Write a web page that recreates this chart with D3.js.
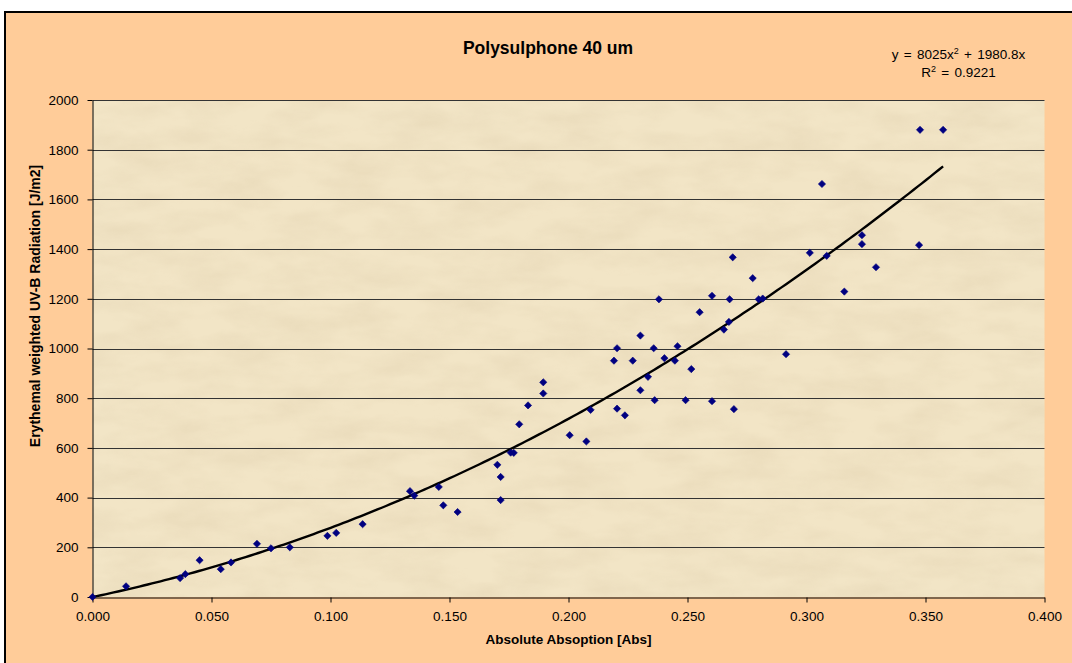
<!DOCTYPE html>
<html>
<head>
<meta charset="utf-8">
<script src="https://cdn.jsdelivr.net/npm/d3@7"></script>
<style>
  html, body { margin: 0; padding: 0; background: #ffffff; }
  svg { display: block; font-family: "Liberation Sans", Arial, sans-serif; }
</style>
</head>
<body>
<svg id="chart" width="1072" height="663"></svg>
<script>
// Absorbance of the polysulphone film (x) against erythemal weighted UV-B dose (y)
const absorbance = [
  0.0000, 0.0141, 0.0368, 0.0390, 0.0450, 0.0539, 0.0582, 0.0691, 0.0750, 0.0829,
  0.0987, 0.1024, 0.1135, 0.1334, 0.1352, 0.1455, 0.1474, 0.1534, 0.1701, 0.1715,
  0.1715, 0.1757, 0.1770, 0.1793, 0.1830, 0.1894, 0.1894, 0.2005, 0.2075, 0.2093,
  0.2191, 0.2204, 0.2204, 0.2237, 0.2270, 0.2302, 0.2302, 0.2334, 0.2358, 0.2362,
  0.2380, 0.2403, 0.2447, 0.2458, 0.2492, 0.2516, 0.2551, 0.2603, 0.2603, 0.2653,
  0.2674, 0.2677, 0.2690, 0.2695, 0.2774, 0.2799, 0.2816, 0.2914, 0.3014, 0.3065,
  0.3085, 0.3159, 0.3233, 0.3233, 0.3292, 0.3473, 0.3477, 0.3574
];
const radiation = [
     0,   43,   76,   92,  148,  112,  139,  214,  196,  200,
   246,  258,  293,  426,  408,  443,  369,  342,  532,  483,
   390,  581,  580,  695,  771,  819,  864,  651,  626,  753,
   951, 1001,  758,  731,  951, 1052,  832,  886, 1001,  792,
  1198,  961,  951, 1009,  792,  917, 1146, 1212,  788, 1076,
  1107, 1198, 1367,  756, 1283, 1198, 1201,  977, 1385, 1662,
  1373, 1229, 1456, 1420, 1327, 1416, 1880, 1880
];

// Polynomial trendline (order 2, through the origin): y = a*x^2 + b*x
const trendCoefficients = [8025, 1980.8];
const trendR2 = 0.9221;

const xTicks = [0, 0.05, 0.10, 0.15, 0.20, 0.25, 0.30, 0.35, 0.40];
const yTicks = [0, 200, 400, 600, 800, 1000, 1200, 1400, 1600, 1800, 2000];

const chartTitle = "Polysulphone 40 um";
const xTitle = "Absolute Absoption [Abs]";
const yTitle = "Erythemal weighted UV-B Radiation [J/m2]";

const W = 1072, H = 663;
const plot = { left: 92.5, right: 1044.5, top: 100, bottom: 597 };

const svg = d3.select("#chart");
const defs = svg.append("defs");

// Parchment-like mottled texture for the plot area
const tex = defs.append("filter").attr("id", "parchment")
  .attr("x", 0).attr("y", 0).attr("width", 1).attr("height", 1);
tex.append("feTurbulence")
  .attr("type", "fractalNoise").attr("baseFrequency", "0.018 0.045")
  .attr("numOctaves", 4).attr("seed", 11).attr("result", "noise");
tex.append("feColorMatrix").attr("in", "noise").attr("type", "matrix")
  .attr("values", "0 0 0 0 0.72  0 0 0 0 0.60  0 0 0 0 0.40  0 0 0 1.5 -0.5")
  .attr("result", "tint");
tex.append("feComposite").attr("in", "tint").attr("in2", "SourceGraphic").attr("operator", "in");

// Chart area: peach fill with black frame
svg.append("rect")
  .attr("x", 5).attr("y", 12).attr("width", W + 10).attr("height", H + 10)
  .attr("fill", "#FFCC99").attr("stroke", "#000").attr("stroke-width", 2);

const x = d3.scaleLinear().domain([0, 0.4]).range([plot.left, plot.right]);
const y = d3.scaleLinear().domain([0, 2000]).range([plot.bottom, plot.top]);

// Plot area background
svg.append("rect")
  .attr("x", plot.left).attr("y", plot.top)
  .attr("width", plot.right - plot.left).attr("height", plot.bottom - plot.top)
  .attr("fill", "#F2E5C6");
svg.append("rect")
  .attr("x", plot.left).attr("y", plot.top)
  .attr("width", plot.right - plot.left).attr("height", plot.bottom - plot.top)
  .attr("fill", "#fff").attr("filter", "url(#parchment)").attr("opacity", 0.4);

// Horizontal gridlines
svg.append("g").selectAll("line")
  .data(yTicks.filter(d => d > 0))
  .join("line")
  .attr("x1", plot.left).attr("x2", plot.right)
  .attr("y1", d => Math.round(y(d)) + 0.5).attr("y2", d => Math.round(y(d)) + 0.5)
  .attr("stroke", "#333").attr("stroke-width", 1);

// Axes
const fmtX = d3.format(".3f");
const xAxis = svg.append("g")
  .attr("transform", `translate(0,${plot.bottom + 0.5})`)
  .call(d3.axisBottom(x).tickValues(xTicks).tickFormat(fmtX)
    .tickSizeInner(5).tickSizeOuter(0).tickPadding(9));
const yAxis = svg.append("g")
  .attr("transform", `translate(${plot.left},0)`)
  .call(d3.axisLeft(y).tickValues(yTicks).tickFormat(d3.format("d"))
    .tickSizeInner(5).tickSizeOuter(0).tickPadding(9));

[xAxis, yAxis].forEach(g => {
  g.select(".domain").attr("stroke", "#000");
  g.selectAll(".tick line").attr("stroke", "#000");
  g.selectAll(".tick text")
    .attr("fill", "#000")
    .style("font-family", "'Liberation Sans', Arial, sans-serif")
    .style("font-size", "13.5px");
});

// Trendline drawn from its stated coefficients
const [a, b] = trendCoefficients;
const xMax = d3.max(absorbance);
const trendPts = d3.range(0, 201).map(i => {
  const xv = xMax * i / 200;
  return [xv, a * xv * xv + b * xv];
});
svg.append("path")
  .datum(trendPts)
  .attr("d", d3.line().x(d => x(d[0])).y(d => y(d[1])))
  .attr("fill", "none").attr("stroke", "#000").attr("stroke-width", 2.4);

// Data markers (navy diamonds)
const diamond = d3.symbol().type(d3.symbolSquare).size(26);
svg.append("g").selectAll("path")
  .data(absorbance.map((v, i) => [v, radiation[i]]))
  .join("path")
  .attr("d", diamond)
  .attr("transform", d => `translate(${x(d[0])},${y(d[1])}) rotate(45)`)
  .attr("fill", "#000080").attr("stroke", "#000080").attr("stroke-width", 0.6);

// Titles
svg.append("text")
  .attr("x", 548).attr("y", 54).attr("text-anchor", "middle")
  .style("font-size", "17.5px").style("font-weight", "bold")
  .text(chartTitle);

svg.append("text")
  .attr("x", 568.5).attr("y", 644).attr("text-anchor", "middle")
  .style("font-size", "13.5px").style("font-weight", "bold")
  .text(xTitle);

svg.append("text")
  .attr("transform", "translate(39.5,306) rotate(-90)")
  .attr("text-anchor", "middle")
  .style("font-size", "14px").style("font-weight", "bold")
  .text(yTitle);

// Trendline equation and R-squared
const eq = svg.append("text")
  .attr("x", 958.5).attr("y", 59).attr("text-anchor", "middle")
  .style("font-size", "13.5px").style("word-spacing", "1.5px");
eq.append("tspan").text(`y = ${a}x`);
eq.append("tspan").attr("dy", -5).style("font-size", "9px").text("2");
eq.append("tspan").attr("dy", 5).text(` + ${b}x`);

const r2 = svg.append("text")
  .attr("x", 958.5).attr("y", 77).attr("text-anchor", "middle")
  .style("font-size", "13.5px").style("word-spacing", "1.5px");
r2.append("tspan").text("R");
r2.append("tspan").attr("dy", -5).style("font-size", "9px").text("2");
r2.append("tspan").attr("dy", 5).text(` = ${trendR2}`);
</script>
</body>
</html>
